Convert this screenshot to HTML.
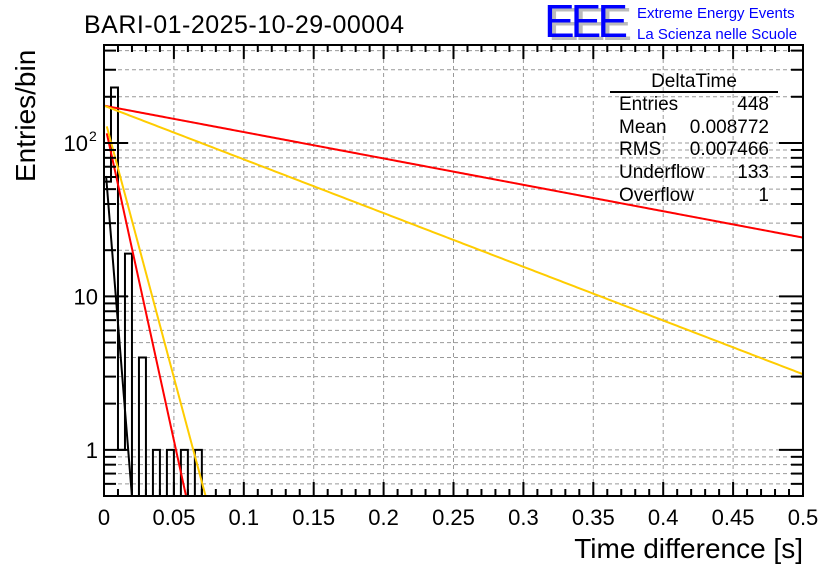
<!DOCTYPE html>
<html><head><meta charset="utf-8"><style>
body{margin:0;background:#fff;width:836px;height:572px;overflow:hidden;font-family:"Liberation Sans",sans-serif}
</style></head><body>
<svg id="c" width="836" height="572" xmlns="http://www.w3.org/2000/svg" font-family="Liberation Sans, sans-serif">
<text x="84" y="33" font-size="25" textLength="320">BARI-01-2025-10-29-00004</text>
<g>
<text x="548" y="40" font-size="46" fill="#bbb" textLength="84">EEE</text>
<text x="544" y="37" font-size="46" fill="#0000ff" textLength="84">EEE</text>
<text x="637" y="18" font-size="15" fill="#0000ff">Extreme Energy Events</text>
<text x="637" y="39" font-size="15" fill="#0000ff">La Scienza nelle Scuole</text>
</g>
<g id="grid"></g>
<g id="hist"></g>
<g id="fits"></g>
<g id="axes"></g>
<g font-size="19">
<text x="694" y="87" text-anchor="middle">DeltaTime</text>
<line x1="610" y1="92" x2="778" y2="92" stroke="#000" stroke-width="2"/>
<text x="619" y="110">Entries</text><text x="769" y="110" text-anchor="end">448</text>
<text x="619" y="133">Mean</text><text x="769" y="133" text-anchor="end">0.008772</text>
<text x="619" y="155">RMS</text><text x="769" y="155" text-anchor="end">0.007466</text>
<text x="619" y="178">Underflow</text><text x="769" y="178" text-anchor="end">133</text>
<text x="619" y="201">Overflow</text><text x="769" y="201" text-anchor="end">1</text>
</g>
<text x="803" y="558" font-size="28" text-anchor="end">Time difference [s]</text>
<text transform="translate(35,182) rotate(-90)" font-size="28">Entries/bin</text>
</svg>
<script>
const binWidth=0.005;
const binCounts=[56,230,1,19,0,4,0,1,0,1,0,1,0,1];
const xTicks=[0,0.05,0.1,0.15,0.2,0.25,0.3,0.35,0.4,0.45,0.5];
const xTickLabels=["0","0.05","0.1","0.15","0.2","0.25","0.3","0.35","0.4","0.45","0.5"];
const yDecades=[1,10,100];
const yDecadeLabels=["1","10","10"];
// fits: amplitude at x=0, decay rate (1/s), range
const fitAmps=[175,175,140,150,90];
const fitRates=[3.96,8.06,96,78.5,260];
const fitStarts=[0.0,0.0,0.002,0.002,0.0015];
const fitEnds=[0.5,0.5,0.063,0.076,0.022];
const fitColors=["#ff0000","#ffcc00","#ff0000","#ffcc00","#000000"];
const L=104,R=803,T=45,B=496,YMIN=0.5,YMAX=435;
const sx=v=>L+(v-0)/(0.5)*(R-L);
const sy=v=>{v=Math.max(v,YMIN);return B-(Math.log10(v)-Math.log10(YMIN))/(Math.log10(YMAX)-Math.log10(YMIN))*(B-T);};
const NS="http://www.w3.org/2000/svg";
function mk(t,a,p){const e=document.createElementNS(NS,t);for(const k in a)e.setAttribute(k,a[k]);p.appendChild(e);return e;}
const g=document.getElementById('grid'),h=document.getElementById('hist'),f=document.getElementById('fits'),ax=document.getElementById('axes');
xTicks.forEach((t,i)=>{if(i>0&&i<xTicks.length-1){const l=mk('line',{x1:sx(t),x2:sx(t),y1:T,y2:B,stroke:'#999','stroke-dasharray':'4,3'},g);}});
for(let d=0.1;d<=100;d*=10){for(let m=1;m<10;m++){const v=d*m;if(v<YMIN||v>YMAX)continue;const y=sy(v);
const l=mk('line',{x1:L,x2:R,y1:y,y2:y,stroke:'#999','stroke-dasharray':'4,3'},g);
const big=(m===1);const tl=mk('line',{x1:L,x2:L+(big?24:12),y1:y,y2:y,stroke:'#000','stroke-width':2},ax);
const tr=mk('line',{x1:R,x2:R-(big?24:12),y1:y,y2:y,stroke:'#000','stroke-width':2},ax);}}
let d='M'+sx(0)+','+B;
binCounts.forEach((c,i)=>{const y=c>0?sy(c):B;d+=' L'+sx(i*binWidth)+','+y+' L'+sx((i+1)*binWidth)+','+y;});
d+=' L'+sx(binCounts.length*binWidth)+','+B;
const hp=mk('path',{d:d,fill:'none',stroke:'#000','stroke-width':2},h);


mk('clipPath',{id:'pc'},f).appendChild(document.createElementNS(NS,'rect'));
const cr=f.querySelector('rect');cr.setAttribute('x',L);cr.setAttribute('y',T);cr.setAttribute('width',R-L);cr.setAttribute('height',B-T);
fitAmps.forEach((A,i)=>{let pd='';const n=300;for(let k=0;k<=n;k++){const x=fitStarts[i]+(fitEnds[i]-fitStarts[i])*k/n;const v=A*Math.exp(-fitRates[i]*x);pd+=(k?' L':'M')+sx(x).toFixed(2)+','+sy(v).toFixed(2);}
const p=mk('path',{d:pd,fill:'none',stroke:fitColors[i],'stroke-width':2,'clip-path':'url(#pc)'},f);

});
const fr=mk('rect',{x:L,y:T,width:R-L,height:B-T,fill:'none',stroke:'#000','stroke-width':2},ax);


for(let k=0;k<=50;k++){const x=sx(k*0.01);const big=k%5===0;
mk('line',{x1:x,x2:x,y1:B,y2:B-(big?14:7),stroke:'#000','stroke-width':2},ax);
mk('line',{x1:x,x2:x,y1:T,y2:T+(big?14:7),stroke:'#000','stroke-width':2},ax);}
xTicks.forEach((t,i)=>{const tx=mk('text',{x:sx(t),y:525,'font-size':22,'text-anchor':'middle'},ax);tx.textContent=xTickLabels[i];

});
yDecades.forEach((v,i)=>{const tx=mk('text',{x:i===2?88:98,y:sy(v)+8,'font-size':22,'text-anchor':'end'},ax);tx.textContent=yDecadeLabels[i];


if(i===2){const sp=mk('text',{x:89,y:sy(v)-2,'font-size':14},ax);sp.textContent='2';

}});
</script>
</body></html>
